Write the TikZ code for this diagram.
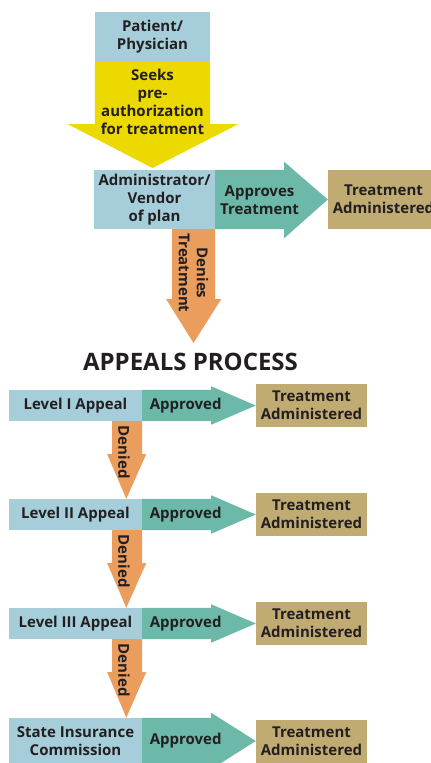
\documentclass[tikz,border=0pt]{standalone}
\usepackage{fontspec}
\setmainfont{Open Sans}
\usetikzlibrary{calc}
\definecolor{boxblue}{HTML}{A6CEDA}
\definecolor{arrowyellow}{HTML}{ECD900}
\definecolor{arrowgreen}{HTML}{6CB9AA}
\definecolor{arroworange}{HTML}{EB9D5D}
\definecolor{boxtan}{HTML}{C0AB73}
\definecolor{ink}{HTML}{231F20}
\begin{document}
\begin{tikzpicture}[x=1pt,y=-1pt,
  lbl/.style={font=\bfseries\fontsize{15}{18}\selectfont, text=ink, align=center, inner sep=0pt},
  stage/.style={lbl, fill=boxblue, minimum width=133pt, minimum height=31pt},
  result/.style={lbl, fill=boxtan, minimum width=111pt, minimum height=43pt},
  heading/.style={font=\bfseries\fontsize{24}{28}\selectfont, text=ink, inner sep=0pt}]
\useasboundingbox (0,0) rectangle (431,763);

% --- request for pre-authorization ---
\node[stage, minimum width=115pt, minimum height=50pt] (patient) at (152.5,37) {Patient/\\Physician};
\coordinate (ytip) at (152.5,168);
\fill[arrowyellow] (patient.south west) -- (patient.south east) -- ++(0,62) -- ++(28,0) -- (ytip)
  -- ($(patient.south west)+(-27,62)$) -- ++(27,0) -- cycle;
\node[lbl] (seeks) at (152.5,102) {Seeks\\pre-\\authorization\\for treatment};

% --- plan decision ---
\node[stage, minimum width=121pt, minimum height=59pt] (admin) at (154.5,199.5) {Administrator/\\Vendor\\of plan};
\node[result, minimum height=59pt] (ta0) at (383.5,199.5) {Treatment\\Administered};
\fill[arrowgreen] (admin.north east) -- ++(69,0) -- ++(0,-8) -- (ta0.west)
  -- ($(admin.south east)+(69,9)$) -- ++(0,-9) -- (admin.south east) -- cycle;
\node[lbl] (approves) at (259.5,200) {Approves\\Treatment};

\coordinate (dtip) at (193.5,343);
\fill[arroworange] ($(admin.south east)+(-43,0)$) -- (admin.south east) -- ++(0,70) -- ++(6,0) -- (dtip)
  -- ($(admin.south east)+(-49,70)$) -- ++(6,0) -- cycle;
\node[lbl, rotate=-90] (denies) at (193.5,273) {Denies\\Treatment};

\node[heading] (title) at (190.5,362) {APPEALS PROCESS};

% --- appeal levels ---
\foreach \i/\cy/\h/\hx/\lab in {1/405.5/31/3.5/{Level I Appeal},
                                2/514.5/31/3.5/{Level II Appeal},
                                3/623.5/31/3.5/{Level III Appeal},
                                4/741/46/5/{State Insurance\\Commission}} {
  \node[stage, minimum height=\h pt] (s\i) at (75.5,\cy) {\lab};
  \node[result] (r\i) at (311.5,\cy) {Treatment\\Administered};
  \fill[arrowgreen] (s\i.north east) -- ++(69,0) -- ++(0,-\hx) -- (r\i.west)
    -- ($(s\i.south east)+(69,\hx)$) -- ++(0,-\hx) -- (s\i.south east) -- cycle;
  \node[lbl] (a\i) at ($(s\i.east)+(43.5,0)$) {Approved};
}
\foreach \i/\j in {1/2,2/3,3/4} {
  \fill[arroworange] ($(s\i.south east)+(-30,0)$) -- (s\i.south east) -- ++(0,33) -- ++(4,0)
    -- ($(s\j.north west)+(117.5,0)$) -- ($(s\i.south east)+(-35,33)$) -- ++(5,0) -- cycle;
  \node[lbl, rotate=-90] (d\i) at ($(s\i.south)+(48.5,31)$) {Denied};
}
\end{tikzpicture}
\end{document}
